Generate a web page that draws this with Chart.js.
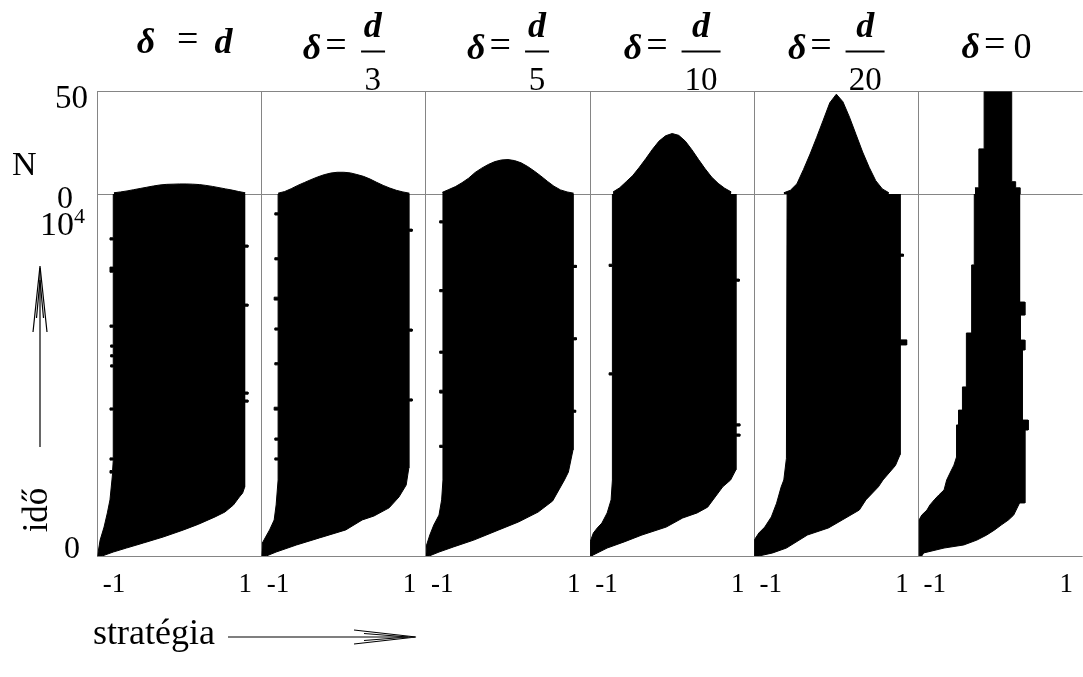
<!DOCTYPE html>
<html lang="hu">
<head>
<meta charset="utf-8">
<title>Stratégia eloszlás δ függvényében</title>
<script src="https://cdn.jsdelivr.net/npm/chart.js"></script>
<style>
  html, body { margin: 0; padding: 0; background: #fff; overflow: hidden; }
  body { width: 1083px; height: 677px; position: relative; color: #000;
         font-family: "Liberation Serif", "Times New Roman", serif; }
  #chart { position: absolute; left: 0; top: 0; }
  .lbl { position: absolute; line-height: 1; white-space: nowrap; }
  .title { position: absolute; display: flex; align-items: center; line-height: 1;
           font-size: 33px; white-space: nowrap; transform: translate(-50%, -50%); }
  .title i { font-weight: bold; font-size: 36px; }
  .title .sym { position: relative; top: -4px; }
  .title .eq { position: relative; top: -7px; font-size: 38px; }
  .frac { display: inline-flex; flex-direction: column; align-items: center; }
  .frac .num { padding: 0 3px 8px; }
  .frac .bar { align-self: stretch; height: 2px; background: #000; }
  .frac .den { padding: 10px 3px 0; }
  svg { position: absolute; left: 0; top: 0; }
</style>
</head>
<body>
<canvas id="chart" width="1100" height="677"></canvas>

<!-- left axis labels -->
<div class="lbl" style="left:0;width:88px;text-align:right;top:81px;font-size:33px">50</div>
<div class="lbl" style="left:12px;top:147px;font-size:34px">N</div>
<div class="lbl" style="left:57px;top:181px;font-size:32px">0</div>
<div class="lbl" style="left:40px;top:207px;font-size:34px">10<span style="font-size:22px;position:relative;top:-12px">4</span></div>
<div class="lbl" style="left:35px;top:510px;font-size:35px;transform:translate(-50%,-50%) rotate(-90deg)">idő</div>
<div class="lbl" style="left:64px;top:531px;font-size:32px">0</div>
<div class="lbl" style="left:93px;top:614px;font-size:36px">stratégia</div>

<svg width="1083" height="677">
  <g stroke="#000" stroke-width="1.2" fill="none">
    <!-- time arrow -->
    <line x1="40" y1="447" x2="40" y2="268"/>
    <polyline points="33,332 40,266 47,332"/>
    <polyline points="36.5,318 40,280 43.5,318"/>
    <!-- strategy arrow -->
    <line x1="228" y1="637" x2="415" y2="637"/>
    <polyline points="354,630 416,637 354,644"/>
    <polyline points="364,633.5 408,637 364,640.5"/>
  </g>
</svg>

<script>
// axis ranges and ticks
const stratTicks = [-1, 1];
const densityMax = 50;
const timeMax = 10000;

// panel headings: delta = ...
const deltaLabels = ['d', 'd/3', 'd/5', 'd/10', 'd/20', '0'];

// strategy grid for the population histograms (top row)
const strategyX = [-1, -0.9, -0.8, -0.7, -0.6, -0.5, -0.4, -0.3, -0.2, -0.1, 0,
                   0.1, 0.2, 0.3, 0.4, 0.5, 0.6, 0.7, 0.8, 0.9, 1];

const densityD   = [0.6, 1.0, 1.5, 2.1, 2.7, 3.3, 3.9, 4.4, 4.7, 4.8, 4.9, 4.9, 4.8, 4.6, 4.2, 3.7, 3.1, 2.5, 1.9, 1.2, 0.6];
const densityD3  = [0.4, 1.2, 2.6, 4.2, 5.6, 7.0, 8.3, 9.4, 10.2, 10.6, 10.6, 10.3, 9.5, 8.6, 7.3, 5.7, 4.2, 2.9, 1.8, 1.0, 0.4];
const densityD5  = [0.8, 2.2, 3.6, 5.5, 7.7, 10.5, 12.6, 14.4, 15.8, 16.6, 16.8, 16.3, 15.2, 13.4, 11.2, 8.8, 6.2, 3.8, 2.0, 1.0, 0.4];
const densityD10 = [null, 1.0, 3.0, 6.0, 9.0, 13.0, 17.3, 21.8, 25.8, 28.4, 29.5, 28.6, 25.8, 21.6, 16.9, 12.4, 8.3, 5.2, 2.8, 1.0, null];
const densityD20 = [null, null, 0.6, 1.8, 5.0, 12.0, 19.5, 27.6, 36.0, 44.5, 48.7, 45.0, 37.5, 29.0, 20.5, 13.0, 6.5, 2.5, 0.6, null, null];

// delta = 0: histogram bins (left edges + closing edge) and counts
const zeroBinEdges  = [-0.39, -0.33, -0.25, 0.17, 0.23, 0.30];
const zeroBinCounts = [3, 22, 50, 6, 3];

// occupied strategy range over time, [time, strategy]
// left edges run upward in time, right edges run downward
const leftD = [[0,-1.25],[440,-1.21],[800,-1.15],[1190,-1.10],[1550,-1.06],[2100,-1.03],[2290,-1.02],[2290,-1.06],[2360,-1.06],[2360,-1.02],
  [2650,-1.01],[2650,-1.06],[2710,-1.06],[2710,-1.01],[4030,-1.01],[4030,-1.06],[4090,-1.06],[4090,-1.01],[5220,-1.01],[5220,-1.05],[5280,-1.05],[5280,-1.01],
  [5500,-1.01],[5500,-1.05],[5560,-1.05],[5560,-1.01],[5770,-1.01],[5770,-1.05],[5830,-1.05],[5830,-1.01],[6320,-1.01],[6320,-1.06],[6380,-1.06],[6380,-1.01],
  [7840,-1.01],[7840,-1.06],[7980,-1.06],[7980,-1.01],[8730,-1.01],[8730,-1.06],[8790,-1.06],[8790,-1.01],[10000,-1.01]];
const rightD = [[10000,0.99],[8590,0.99],[8590,1.04],[8530,1.04],[8530,0.99],[6960,0.99],[6960,1.04],[6900,1.04],[6900,0.99],[4530,0.99],[4530,1.04],
  [4470,1.04],[4470,0.99],[4310,0.99],[4310,1.04],[4250,1.04],[4250,0.99],[1900,0.99],[1740,0.96],[1630,0.91],[1410,0.82],[1215,0.69],[1080,0.54],[880,0.29],
  [720,0.06],[525,-0.25],[360,-0.55],[220,-0.81],[110,-1.01],[0,-1.18]];

const leftD3 = [[0,-1.25],[360,-1.24],[525,-1.19],[720,-1.13],[995,-1.06],[1410,-1.03],[2100,-1.0],[2650,-1.0],[2650,-1.05],[2710,-1.05],[2710,-1.0],
  [3200,-1.0],[3200,-1.05],[3260,-1.05],[3260,-1.0],[4030,-1.0],[4030,-1.06],[4110,-1.06],[4110,-1.0],[5280,-1.0],[5280,-1.05],[5340,-1.05],[5340,-1.0],
  [6240,-1.0],[6240,-1.05],[6300,-1.05],[6300,-1.0],[7070,-1.0],[7070,-1.06],[7150,-1.06],[7150,-1.0],[8180,-1.0],[8180,-1.05],[8240,-1.05],[8240,-1.0],
  [9420,-1.0],[9420,-1.05],[9480,-1.05],[9480,-1.0],[10000,-1.0]];
const rightD3 = [[10000,0.99],[9030,0.99],[9030,1.04],[8970,1.04],[8970,0.99],[6270,0.99],[6270,1.04],[6210,1.04],[6210,0.99],[4340,0.99],[4340,1.04],
  [4280,1.04],[4280,0.99],[2430,0.99],[1960,0.95],[1630,0.84],[1330,0.69],[1105,0.46],[995,0.28],[720,0.03],[500,-0.37],[305,-0.72],[110,-1.03],[0,-1.18]];

const leftD5 = [[0,-1.25],[300,-1.24],[580,-1.19],[855,-1.13],[1130,-1.05],[1550,-1.01],[2100,-0.99],[3000,-0.99],[3000,-1.04],[3060,-1.04],[3060,-0.99],
  [4500,-0.99],[4500,-1.04],[4580,-1.04],[4580,-0.99],[5600,-0.99],[5600,-1.04],[5660,-1.04],[5660,-0.99],[7300,-0.99],[7300,-1.04],[7360,-1.04],[7360,-0.99],
  [9200,-0.99],[9200,-1.04],[9260,-1.04],[9260,-0.99],[10000,-0.99]];
const rightD5 = [[10000,0.99],[8030,0.99],[8030,1.04],[7970,1.04],[7970,0.99],[6030,0.99],[6030,1.04],[5970,1.04],[5970,0.99],[4030,0.99],[4030,1.03],
  [3970,1.03],[3970,0.99],[2930,0.99],[2320,0.92],[2100,0.86],[1520,0.68],[1215,0.46],[940,0.16],[720,-0.14],[440,-0.52],[250,-0.83],[110,-1.05],[0,-1.2]];

const leftD10 = [[0,-1.25],[390,-1.25],[635,-1.2],[775,-1.14],[910,-1.07],[1190,-0.99],[1550,-0.93],[2100,-0.91],[5000,-0.91],[5000,-0.96],[5060,-0.96],
  [5060,-0.91],[8000,-0.91],[8000,-0.96],[8060,-0.96],[8060,-0.91],[10000,-0.91]];
const rightD10 = [[10000,0.97],[7650,0.97],[7650,1.02],[7590,1.02],[7590,0.97],[3650,0.97],[3650,1.03],[3590,1.03],[3590,0.97],[3370,0.97],[3370,1.03],
  [3310,1.03],[3310,0.97],[2380,0.97],[2100,0.89],[1910,0.77],[1350,0.54],[1190,0.38],[1050,0.16],[800,-0.09],[580,-0.46],[390,-0.73],[220,-0.99],[30,-1.2],[0,-1.22]];

const leftD20 = [[0,-1.25],[440,-1.25],[635,-1.18],[800,-1.09],[1080,-0.99],[1460,-0.91],[1910,-0.84],[2100,-0.80],[2700,-0.76],[10000,-0.75]];
const rightD20 = [[10000,0.97],[8340,0.97],[8340,1.02],[8280,1.02],[8280,0.97],[5970,0.97],[5970,1.07],[5830,1.07],[5830,0.97],[2800,0.97],[2500,0.90],
  [2100,0.71],[1910,0.64],[1550,0.45],[1270,0.35],[995,0.09],[775,-0.12],[580,-0.44],[220,-0.76],[85,-0.97],[0,-1.18]];

const leftZero = [[0,-1.24],[995,-1.24],[1130,-1.2],[1270,-1.12],[1410,-1.075],[1550,-1.01],[1685,-0.94],[1825,-0.86],[2100,-0.82],[2290,-0.77],[2510,-0.71],
  [2735,-0.67],[3620,-0.67],[3620,-0.64],[4030,-0.64],[4030,-0.58],[4670,-0.58],[4670,-0.52],[6160,-0.52],[6160,-0.44],[8040,-0.44],[8040,-0.40],[10000,-0.40]];
const rightZero = [[10000,0.29],[7015,0.29],[7015,0.37],[6655,0.37],[6655,0.30],[5965,0.30],[5965,0.37],[5690,0.37],[5690,0.33],[3755,0.33],[3755,0.42],
  [3480,0.42],[3480,0.37],[1465,0.37],[1465,0.29],[1130,0.20],[995,0.12],[855,0.01],[720,-0.09],[580,-0.21],[440,-0.36],[305,-0.56],[220,-0.86],[85,-1.17],[0,-1.2]];

const FONT = '"Liberation Serif", "Times New Roman", serif';

// one column per delta value
const panels = [
  { top: strategyX.map((x, i) => ({ x, y: densityD[i] })),   left: leftD,    right: rightD },
  { top: strategyX.map((x, i) => ({ x, y: densityD3[i] })),  left: leftD3,   right: rightD3 },
  { top: strategyX.map((x, i) => ({ x, y: densityD5[i] })),  left: leftD5,   right: rightD5 },
  { top: strategyX.map((x, i) => ({ x, y: densityD10[i] })), left: leftD10,  right: rightD10 },
  { top: strategyX.map((x, i) => ({ x, y: densityD20[i] })), left: leftD20,  right: rightD20 },
  { top: zeroBinEdges.map((x, i) => ({ x, y: i < zeroBinCounts.length ? zeroBinCounts[i] : 0 })),
    left: leftZero, right: rightZero, stepped: 'before' }
];

const datasets = [];
const scales = {};

panels.forEach((p, i) => {
  const xAxisID = 'x' + (i + 1);
  // occupied strategies vs. time, closed shape: left edge up, right edge down
  datasets.push({
    data: p.left.concat(p.right).map(([t, s]) => ({ x: s, y: t })),
    xAxisID, yAxisID: 'yBot',
    fill: 'shape', backgroundColor: '#000', borderColor: '#000', borderWidth: 1,
    pointRadius: 0, tension: 0
  });
  // final population histogram
  datasets.push({
    data: p.top,
    xAxisID, yAxisID: 'yTop',
    fill: 'origin', backgroundColor: '#000', borderColor: '#000', borderWidth: 1,
    pointRadius: 0, tension: 0, stepped: p.stepped || false
  });

  scales[xAxisID] = {
    type: 'linear', axis: 'x', position: 'bottom',
    stack: 'strategy', stackWeight: 1,
    min: -1.25, max: 1.25,
    grid: { display: false, drawTicks: false },
    border: { display: false },
    afterBuildTicks: axis => { axis.ticks = stratTicks.map(v => ({ value: v })); },
    afterFit: axis => { axis.height = 40; },
    ticks: {
      padding: 13, color: '#000', maxRotation: 0, autoSkip: false,
      font: { family: FONT, size: 27 },
      callback: v => String(v)
    }
  };
});

// time below, population on top; later stacked axis sits higher
scales.yBot = {
  type: 'linear', axis: 'y', position: 'left', stack: 'rows', stackWeight: 362,
  min: 0, max: timeMax,
  ticks: { display: false }, grid: { display: false, drawTicks: false }, border: { display: false },
  afterFit: axis => { axis.width = 0; }
};
scales.yTop = {
  type: 'linear', axis: 'y', position: 'left', stack: 'rows', stackWeight: 102.5,
  min: 0, max: densityMax,
  ticks: { display: false }, grid: { display: false, drawTicks: false }, border: { display: false },
  afterFit: axis => { axis.width = 0; }
};

// grey frame: panel separators and row boundaries
const panelFrame = {
  id: 'panelFrame',
  beforeDatasetsDraw(chart) {
    const { ctx, chartArea, scales } = chart;
    const crisp = v => Math.floor(v) + 0.5;
    const top = crisp(chartArea.top), bottom = crisp(chartArea.bottom);
    ctx.save();
    ctx.strokeStyle = '#858585';
    ctx.lineWidth = 1;
    ctx.beginPath();
    [scales.yTop.getPixelForValue(densityMax), scales.yTop.getPixelForValue(0), scales.yBot.getPixelForValue(0)]
      .forEach(y => { ctx.moveTo(chartArea.left, crisp(y)); ctx.lineTo(chartArea.right, crisp(y)); });
    for (let i = 1; i <= panels.length; i++) {
      const x = crisp(scales['x' + i].left);
      ctx.moveTo(x, top - 0.5);
      ctx.lineTo(x, bottom + 0.5);
    }
    ctx.stroke();
    ctx.restore();
  }
};

const chart = new Chart(document.getElementById('chart'), {
  type: 'line',
  data: { datasets },
  options: {
    responsive: false,
    animation: false,
    events: [],
    layout: { padding: { left: 97.5, right: 13.7, top: 91.5, bottom: 81 } },
    plugins: { legend: { display: false }, tooltip: { enabled: false } },
    scales
  },
  plugins: [panelFrame]
});

// headings above each column
deltaLabels.forEach((rhs, i) => {
  const axis = chart.scales['x' + (i + 1)];
  const el = document.createElement('div');
  el.className = 'title';
  const [num, den] = rhs.split('/');
  let y, shift = 0;
  if (den) {
    el.innerHTML = '<i class="sym">δ</i><span class="eq" style="margin:0 14px 0 4px">=</span>' +
      '<span class="frac"><i class="num">' + num + '</i><span class="bar"></span><span class="den">' + den + '</span></span>';
    y = 50.8;
  } else if (rhs === 'd') {
    el.innerHTML = '<i class="sym">δ</i><span class="eq" style="margin:0 16px 0 22px">=</span><i class="sym">d</i>';
    y = 44.5;
    shift = 5;
  } else {
    el.innerHTML = '<i class="sym">δ</i><span class="eq" style="margin:0 8px 0 4px">=</span><span class="sym" style="font-size:36px">' + rhs + '</span>';
    y = 50;
    shift = -4;
  }
  el.style.left = ((axis.left + axis.right) / 2 + shift) + 'px';
  el.style.top = y + 'px';
  document.body.appendChild(el);
});
</script>
</body>
</html>
